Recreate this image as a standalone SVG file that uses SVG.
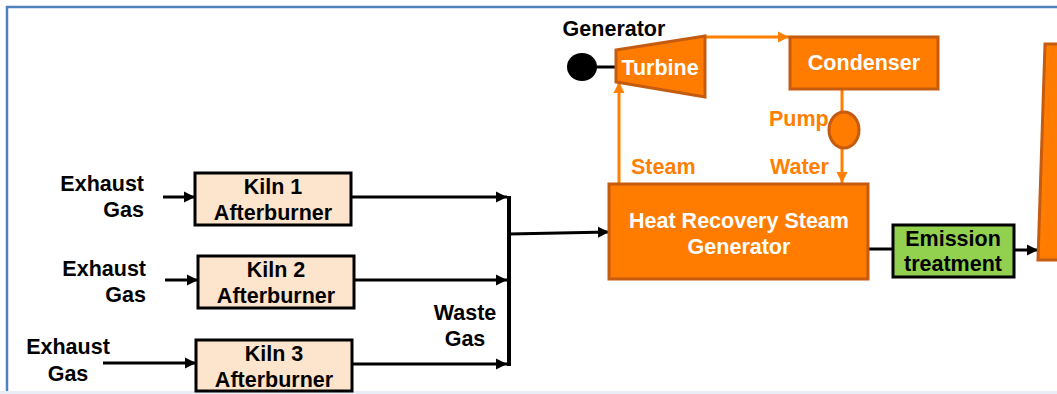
<svg xmlns="http://www.w3.org/2000/svg" width="1057" height="394" viewBox="0 0 1057 394">
<style>
text{font-family:"Liberation Sans",Arial,sans-serif;font-weight:bold;font-size:21.5px}
.blk{fill:#000}
.wht{fill:#fff}
.org{fill:#FF7F00}
.kiln{fill:#FDE4CC;stroke:#000;stroke-width:3}
.orn{fill:#FF7C00;stroke:#C55A11;stroke-width:3}
.bl{stroke:#000;stroke-width:3;fill:none}
.ol{stroke:#FF7F00;stroke-width:3;fill:none}
</style>
<defs>
<marker id="ab" markerUnits="userSpaceOnUse" markerWidth="12" markerHeight="12" refX="11" refY="6" orient="auto"><path d="M0,0.5 L11,6 L0,11.5 z" fill="#000"/></marker>
<marker id="ao" markerUnits="userSpaceOnUse" markerWidth="12" markerHeight="12" refX="11" refY="6" orient="auto"><path d="M0,0.5 L11,6 L0,11.5 z" fill="#FF7F00"/></marker>
</defs>
<rect x="0" y="0" width="1057" height="394" fill="#fff"/>
<rect x="0" y="391" width="1057" height="3" fill="#E9EDF5"/>
<path d="M7,391 V7 H1057" fill="none" stroke="#4F81BD" stroke-width="2.5"/>

<g id="connectors">
<line class="bl" x1="163" y1="197" x2="195" y2="197" marker-end="url(#ab)"/>
<line class="bl" x1="165" y1="280" x2="198" y2="280" marker-end="url(#ab)"/>
<line class="bl" x1="103" y1="363" x2="196" y2="363" marker-end="url(#ab)"/>
<line class="bl" x1="351" y1="197" x2="507" y2="197" marker-end="url(#ab)"/>
<line class="bl" x1="354" y1="280" x2="507" y2="280" marker-end="url(#ab)"/>
<line class="bl" x1="352" y1="364" x2="507" y2="364" marker-end="url(#ab)"/>
<line x1="509" y1="196" x2="509" y2="366" stroke="#000" stroke-width="4"/>
<line class="bl" x1="509" y1="234" x2="609" y2="232" marker-end="url(#ab)"/>
<line class="bl" x1="868" y1="249" x2="893" y2="249"/>
<line class="bl" x1="1014" y1="250" x2="1038" y2="250" marker-end="url(#ab)"/>
<line class="bl" x1="596" y1="67" x2="617" y2="67"/>
<line class="ol" x1="619" y1="184" x2="619" y2="82" marker-end="url(#ao)"/>
<line class="ol" x1="705" y1="37" x2="789" y2="37" marker-end="url(#ao)"/>
<line class="ol" x1="842" y1="89" x2="842" y2="113"/>
<line class="ol" x1="842" y1="148" x2="842" y2="183" marker-end="url(#ao)"/>
</g>

<g id="labels">
<text class="blk" text-anchor="end" x="144" y="191">Exhaust</text>
<text class="blk" text-anchor="end" x="144" y="217">Gas</text>
<text class="blk" text-anchor="end" x="146" y="276">Exhaust</text>
<text class="blk" text-anchor="end" x="146" y="302">Gas</text>
<text class="blk" text-anchor="middle" x="68" y="354">Exhaust</text>
<text class="blk" text-anchor="middle" x="68" y="381">Gas</text>
<text class="blk" text-anchor="middle" x="465" y="320">Waste</text>
<text class="blk" text-anchor="middle" x="465" y="346">Gas</text>
<text class="org" x="631" y="174">Steam</text>
<text class="org" x="770" y="174">Water</text>
<text class="org" x="769" y="126">Pump</text>
</g>

<g id="kiln1">
<rect class="kiln" x="195" y="173" width="156" height="52"/>
<text class="blk" text-anchor="middle" x="273" y="194">Kiln 1</text>
<text class="blk" text-anchor="middle" x="273" y="220">Afterburner</text>
</g>
<g id="kiln2">
<rect class="kiln" x="198" y="256" width="156" height="52"/>
<text class="blk" text-anchor="middle" x="276" y="277">Kiln 2</text>
<text class="blk" text-anchor="middle" x="276" y="303">Afterburner</text>
</g>
<g id="kiln3">
<rect class="kiln" x="196" y="340" width="156" height="51"/>
<text class="blk" text-anchor="middle" x="274" y="361">Kiln 3</text>
<text class="blk" text-anchor="middle" x="274" y="387">Afterburner</text>
</g>

<g id="generator">
<ellipse cx="582" cy="67" rx="15" ry="14" fill="#000"/>
<text class="blk" text-anchor="middle" x="614" y="36">Generator</text>
</g>
<g id="turbine">
<polygon class="orn" points="616,50 705,36 705,97 616,82"/>
<text class="wht" text-anchor="middle" x="660" y="75">Turbine</text>
</g>
<g id="condenser">
<rect class="orn" x="790" y="37" width="148" height="52"/>
<text class="wht" text-anchor="middle" x="864" y="70">Condenser</text>
</g>
<g id="pump">
<ellipse class="orn" cx="844" cy="130" rx="15" ry="18"/>
</g>
<g id="hrsg">
<rect class="orn" x="609" y="184" width="259" height="95"/>
<text class="wht" text-anchor="middle" x="739" y="228">Heat Recovery Steam</text>
<text class="wht" text-anchor="middle" x="739" y="254">Generator</text>
</g>
<g id="emission">
<rect x="893" y="225" width="121" height="52" fill="#92D050" stroke="#000" stroke-width="3"/>
<text class="blk" text-anchor="middle" x="953" y="246">Emission</text>
<text class="blk" text-anchor="middle" x="953" y="271">treatment</text>
</g>
<g id="stack">
<polygon class="orn" points="1045,44 1060,44 1060,260 1038,260"/>
</g>
</svg>
